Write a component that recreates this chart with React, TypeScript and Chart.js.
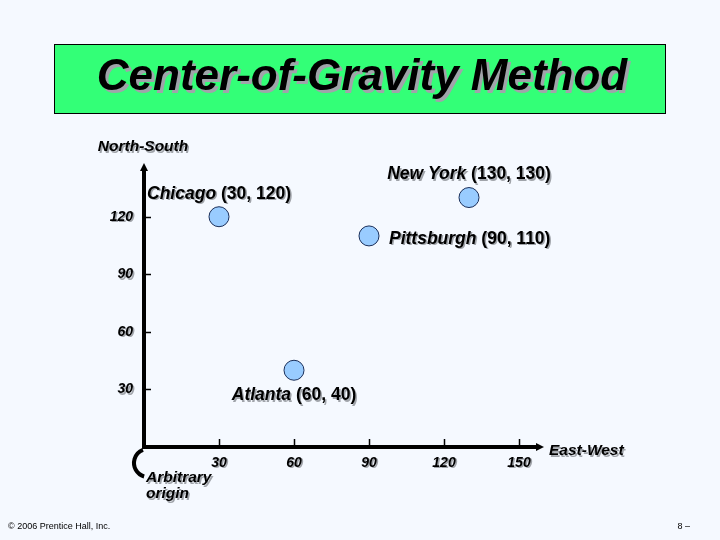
import React, { useEffect, useRef } from "react";
import { Chart, registerables } from "chart.js";

Chart.register(...registerables);

const titleText = "Center-of-Gravity Method";
const yAxisTitle = "North-South";
const xAxisTitle = "East-West";
const originLines = ["Arbitrary", "origin"];
const footerLeft = "© 2006 Prentice Hall, Inc.";
const footerRight = "8 –";

const xTicks = [30, 60, 90, 120, 150];
const yTicks = [30, 60, 90, 120];

const cityNames = ["Chicago", "New York", "Pittsburgh", "Atlanta"];
const cityX = [30, 130, 90, 60];
const cityY = [120, 130, 110, 40];
const labelPlacement = ["above", "above", "right", "below"];

const FONT = "'Liberation Sans', Arial, sans-serif";

function shadowText(ctx: CanvasRenderingContext2D, text: string, x: number, y: number, off = 1.5) {
  const fill = ctx.fillStyle;
  ctx.fillStyle = "#a0a4aa";
  ctx.fillText(text, x + off, y + off);
  ctx.fillStyle = fill;
  ctx.fillText(text, x, y);
}

const decorPlugin = {
  id: "decor",
  beforeDraw(chart: any) {
    const ctx: CanvasRenderingContext2D = chart.ctx;
    ctx.save();
    ctx.fillStyle = "#f5f9ff";
    ctx.fillRect(0, 0, chart.width, chart.height);
    // title box
    ctx.fillStyle = "#33ff77";
    ctx.fillRect(54, 44, 612, 70);
    ctx.strokeStyle = "#000";
    ctx.lineWidth = 1;
    ctx.strokeRect(54.5, 44.5, 611, 69);
    ctx.font = `italic bold 44px ${FONT}`;
    ctx.textAlign = "center";
    ctx.textBaseline = "middle";
    ctx.fillStyle = "#000";
    shadowText(ctx, titleText, 362, 78, 3);
    // footer
    ctx.font = `9px ${FONT}`;
    ctx.textAlign = "left";
    ctx.fillStyle = "#000";
    ctx.fillText(footerLeft, 8, 527);
    ctx.textAlign = "right";
    ctx.fillText(footerRight, 690, 527);
    ctx.restore();
  },
  beforeDatasetsDraw(chart: any) {
    const ctx: CanvasRenderingContext2D = chart.ctx;
    const xs = chart.scales.x;
    const ys = chart.scales.y;
    const x0 = xs.getPixelForValue(0);
    const y0 = ys.getPixelForValue(0);
    const xEnd = xs.getPixelForValue(xs.max);
    const yEnd = ys.getPixelForValue(ys.max);
    ctx.save();
    ctx.strokeStyle = "#000";
    ctx.fillStyle = "#000";
    // axes
    ctx.lineWidth = 4;
    ctx.beginPath();
    ctx.moveTo(x0, y0 + 2);
    ctx.lineTo(x0, yEnd + 6);
    ctx.moveTo(x0 - 2, y0);
    ctx.lineTo(xEnd - 6, y0);
    ctx.stroke();
    // arrow heads
    ctx.beginPath();
    ctx.moveTo(x0, yEnd);
    ctx.lineTo(x0 - 4, yEnd + 8);
    ctx.lineTo(x0 + 4, yEnd + 8);
    ctx.closePath();
    ctx.fill();
    ctx.beginPath();
    ctx.moveTo(xEnd, y0);
    ctx.lineTo(xEnd - 8, y0 - 4);
    ctx.lineTo(xEnd - 8, y0 + 4);
    ctx.closePath();
    ctx.fill();
    // ticks
    ctx.lineWidth = 1.5;
    ctx.beginPath();
    yTicks.forEach((v) => {
      const py = Math.round(ys.getPixelForValue(v)) + 0.5;
      ctx.moveTo(x0 + 2, py);
      ctx.lineTo(x0 + 7, py);
    });
    xTicks.forEach((v) => {
      const px = Math.round(xs.getPixelForValue(v)) + 0.5;
      ctx.moveTo(px, y0 - 2);
      ctx.lineTo(px, y0 - 8);
    });
    ctx.stroke();
    // tick labels
    ctx.font = `italic bold 14px ${FONT}`;
    ctx.textBaseline = "middle";
    ctx.textAlign = "right";
    yTicks.forEach((v) => {
      shadowText(ctx, String(v), x0 - 11, ys.getPixelForValue(v));
    });
    ctx.textAlign = "center";
    xTicks.forEach((v) => {
      shadowText(ctx, String(v), xs.getPixelForValue(v), y0 + 16);
    });
    // axis titles
    ctx.font = `italic bold 15.5px ${FONT}`;
    ctx.textAlign = "center";
    shadowText(ctx, yAxisTitle, x0 - 1, yEnd - 16);
    ctx.textAlign = "left";
    shadowText(ctx, xAxisTitle, xEnd + 5, y0 + 4);
    // origin
    shadowText(ctx, originLines[0], x0 + 2, y0 + 31);
    shadowText(ctx, originLines[1], x0 + 2, y0 + 47);
    ctx.lineWidth = 4;
    ctx.beginPath();
    ctx.arc(x0 + 4, y0 + 16, 14, (106 * Math.PI) / 180, (249 * Math.PI) / 180);
    ctx.stroke();
    ctx.restore();
  },
  afterDatasetsDraw(chart: any) {
    const ctx: CanvasRenderingContext2D = chart.ctx;
    const xs = chart.scales.x;
    const ys = chart.scales.y;
    ctx.save();
    ctx.fillStyle = "#000";
    ctx.textBaseline = "middle";
    ctx.textAlign = "left";
    const fName = `italic bold 17.5px ${FONT}`;
    const fCoord = `bold 17.5px ${FONT}`;
    cityNames.forEach((name, i) => {
      const px = xs.getPixelForValue(cityX[i]);
      const py = ys.getPixelForValue(cityY[i]);
      const coord = ` (${cityX[i]}, ${cityY[i]})`;
      ctx.font = fName;
      const w1 = ctx.measureText(name).width;
      ctx.font = fCoord;
      const w2 = ctx.measureText(coord).width;
      const w = w1 + w2;
      let sx = px - w / 2;
      let sy = py;
      const pl = labelPlacement[i];
      if (pl === "above") sy = py - 23;
      else if (pl === "below") sy = py + 25;
      else if (pl === "right") {
        sx = px + 20;
        sy = py + 3;
      }
      ctx.font = fName;
      shadowText(ctx, name, sx, sy);
      ctx.font = fCoord;
      shadowText(ctx, coord, sx + w1, sy);
    });
    ctx.restore();
  },
};

export default function App() {
  const ref = useRef<HTMLCanvasElement | null>(null);
  useEffect(() => {
    if (!ref.current) return;
    const chart = new Chart(ref.current, {
      type: "scatter",
      data: {
        datasets: [
          {
            data: cityNames.map((_, i) => ({ x: cityX[i], y: cityY[i] })),
            pointRadius: 10,
            pointHoverRadius: 10,
            backgroundColor: "#99ccff",
            borderColor: "#1a2f5a",
            borderWidth: 1,
          },
        ],
      },
      options: {
        responsive: false,
        animation: false,
        devicePixelRatio: 1,
        layout: { padding: { left: 144, right: 176, top: 163, bottom: 93 } },
        plugins: { legend: { display: false }, tooltip: { enabled: false }, title: { display: false } },
        scales: {
          x: { type: "linear", min: 0, max: 160, display: false },
          y: { type: "linear", min: 0, max: 148, display: false },
        },
      },
      plugins: [decorPlugin],
    });
    return () => chart.destroy();
  }, []);
  return (
    <div style={{ position: "fixed", left: 0, top: 0, width: 720, height: 540 }}>
      <canvas ref={ref} width={720} height={540} style={{ display: "block" }} />
    </div>
  );
}
